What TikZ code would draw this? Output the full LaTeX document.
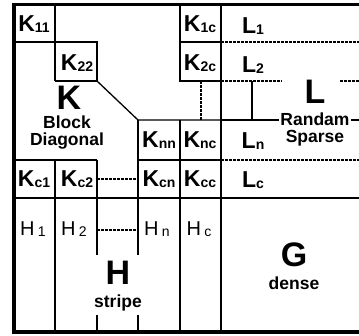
\documentclass[tikz,border=0pt]{standalone}
\usepackage{fontspec}
\setmainfont{Liberation Sans}
\newcommand{\sm}[1]{\raisebox{-1pt}{\fontsize{14}{14}\selectfont #1}}

\begin{document}
\begin{tikzpicture}[x=1pt, y=-1pt,
    frame line/.style={line width=3.8pt},
    mid line/.style={line width=2.4pt},
    thin line/.style={line width=1.3pt},
    dash line/.style={line width=1.3pt, dash pattern=on 3pt off 1pt},
    blk/.style={font=\fontsize{23}{23}\selectfont\bfseries, inner sep=0pt},
    hblk/.style={font=\fontsize{20}{20}\selectfont, inner sep=0pt},
    big/.style={font=\fontsize{34}{34}\selectfont\bfseries, inner sep=0pt},
    word/.style={font=\fontsize{17.5}{17.5}\selectfont\bfseries, inner sep=0pt}]
    \useasboundingbox (0,0) rectangle (359,336);

    % Draw the outer frame, open on the right
    \draw[frame line] (359,4.5) -- (14,4.5) -- (14,332) -- (359,332);
    \draw[mid line] (14,198) -- (359,198);
    \draw[mid line] (221,4.5) -- (221,332);

    % Diagonal blocks of K
    \draw[thin line] (55,4.5) -- (55,81);
    \draw[thin line] (14,42) -- (97,42) -- (97,81) -- (55,81);
    \draw[thin line] (97,81) -- (138,120) -- (221,120);
    \draw[thin line] (14,160) -- (97,160);
    \draw[thin line] (138,160) -- (221,160);

    % Coupling column and row
    \draw[thin line] (180,4.5) -- (180,81) -- (221,81);
    \draw[thin line] (180,42) -- (221,42);
    \draw[thin line] (180,120) -- (180,332);
    \draw[thin line] (138,120) -- (138,255);
    \draw[thin line] (97,160) -- (97,255);
    \foreach \x in {97,138} \draw[thin line] (\x,315) -- (\x,332);
    \draw[thin line] (55,160) -- (55,332);
    \draw[dash line] (201,81) -- (201,120);
    \foreach \y in {179,230} \draw[dash line] (97,\y) -- (138,\y);

    % Rows of L
    \foreach \y in {42,160} \draw[dash line] (221,\y) -- (359,\y);
    \draw[dash line] (221,81) -- (282,81);
    \draw[dash line] (340,81) -- (359,81);
    \draw[thin line] (252,81) -- (252,120);
    \draw[thin line] (221,120) -- (279,120);
    \draw[thin line] (351,120) -- (359,120);

    % Block labels
    \node[blk] (k11) at (34,24) {K\sm{11}};
    \node[blk] (k22) at (77,63) {K\sm{22}};
    \node[blk] (knn) at (159,140) {K\sm{nn}};
    \node[blk] (k1c) at (200,24) {K\sm{1c}};
    \node[blk] (k2c) at (200,63) {K\sm{2c}};
    \node[blk] (knc) at (200,140) {K\sm{nc}};
    \node[blk] (kc1) at (34,179) {K\sm{c1}};
    \node[blk] (kc2) at (77,179) {K\sm{c2}};
    \node[blk] (kcn) at (159,179) {K\sm{cn}};
    \node[blk] (kcc) at (200,179) {K\sm{cc}};
    \node[blk] (l1) at (253,26) {L\sm{1}};
    \node[blk] (l2) at (253,65) {L\sm{2}};
    \node[blk] (ln) at (253,141) {L\sm{n}};
    \node[blk] (lc) at (253,180) {L\sm{c}};
    \node[hblk] (h1) at (33,229) {H\,\sm{1}};
    \node[hblk] (h2) at (74,229) {H\,\sm{2}};
    \node[hblk] (hn) at (157,229) {H\,\sm{n}};
    \node[hblk] (hc) at (199,229) {H\,\sm{c}};

    % Region names
    \node[big] (kname) at (69,98) {K};
    \node[word] (block) at (67,122) {Block};
    \node[word] (diag) at (67,141) {Diagonal};
    \node[big] (lname) at (315,92) {L};
    \node[word] (randam) at (315,119) {Randam};
    \node[word] (sparse) at (315,138.5) {Sparse};
    \node[big] (hname) at (118,273) {H};
    \node[word] (stripe) at (118,303) {stripe};
    \node[big] (gname) at (294,255) {G};
    \node[word] (dense) at (294,283) {dense};
\end{tikzpicture}
\end{document}
